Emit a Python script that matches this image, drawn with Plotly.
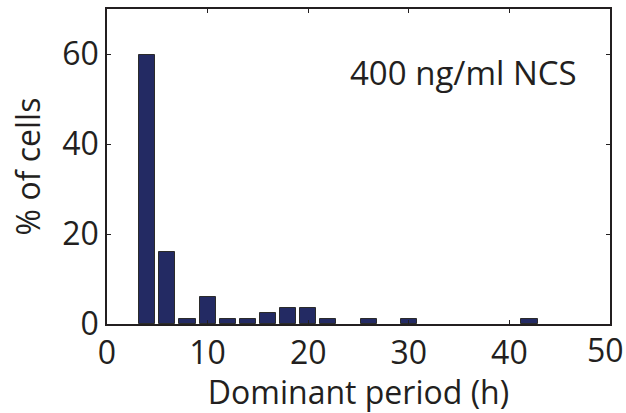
import plotly.graph_objects as go

period_h = [4, 6, 8, 10, 12, 14, 16, 18, 20, 22, 26, 30, 42]
pct_cells = [59.8, 15.9, 1.22, 6.1, 1.22, 1.22, 2.44, 3.66, 3.66, 1.22, 1.22, 1.22, 1.22]
x_ticks = [0, 10, 20, 30, 40, 50]
x_tick_labels = ["0", "10", "20", "30", "40", "50"]
y_ticks = [0, 20, 40, 60]
label_text = "400 ng/ml NCS"

FONT = "Open Sans"
FS = 32
INK = "#231f20"

fig = go.Figure()
fig.add_trace(go.Bar(
    x=period_h, y=pct_cells, width=1.6,
    marker=dict(color="#232a63", line=dict(color="#2b2b2b", width=1)),
    showlegend=False,
))

axis_common = dict(
    showline=True, linecolor=INK, linewidth=1.5, mirror="ticks",
    ticks="inside", ticklen=4, tickwidth=1, tickcolor=INK,
    showgrid=False, zeroline=False, automargin=False,
    ticklabeloverflow="allow",
    tickfont=dict(family=FONT, size=FS, color=INK),
)

# last x tick label is drawn as an annotation, nudged left so it stays inside the page
shown_labels = x_tick_labels[:-1] + [""]

fig.update_layout(
    width=626, height=413,
    margin=dict(l=107, r=16, t=9, b=89),
    paper_bgcolor="white", plot_bgcolor="white",
    bargap=0,
    xaxis=dict(range=[0, 50], tickvals=x_ticks, ticktext=shown_labels,
               title=dict(text="Dominant period (h)", font=dict(family=FONT, size=FS, color=INK), standoff=2),
               **axis_common),
    yaxis=dict(range=[0, 70], tickvals=y_ticks,
               title=dict(text="% of cells", font=dict(family=FONT, size=FS, color=INK), standoff=12),
               **axis_common),
    annotations=[
        dict(x=35.4, y=56, xref="x", yref="y", text=label_text, showarrow=False,
             xanchor="center", yanchor="middle",
             font=dict(family=FONT, size=33, color=INK)),
        dict(x=x_ticks[-1], y=0, xref="x", yref="paper", text=x_tick_labels[-1], showarrow=False,
             xanchor="center", yanchor="middle", xshift=-5, yshift=-25,
             font=dict(family=FONT, size=FS, color=INK)),
    ],
)

fig.write_html("out.html", config={"displayModeBar": False},
               post_script="document.body.style.margin='0';")
